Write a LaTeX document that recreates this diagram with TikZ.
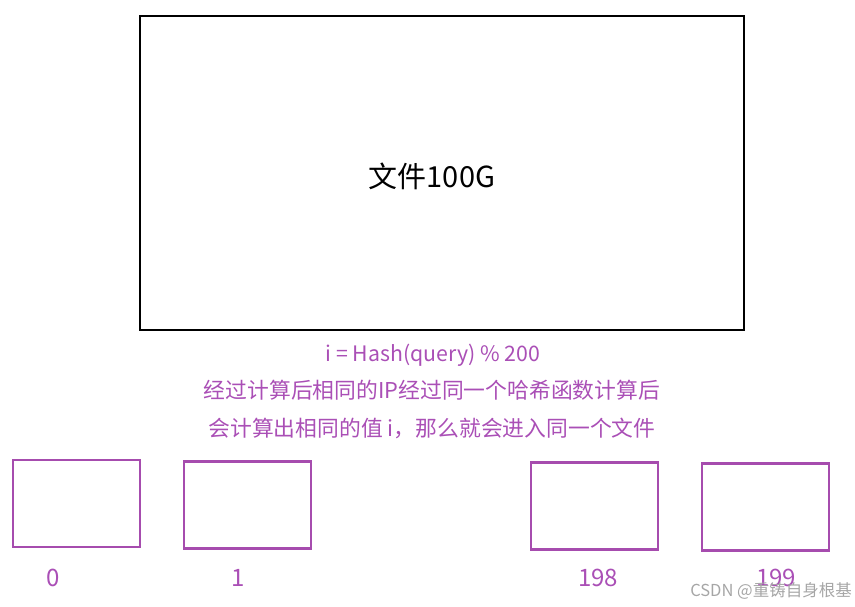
\documentclass[tikz,border=0pt]{standalone}
\usepackage{fontspec}
\setmainfont{Noto Sans CJK SC}
\definecolor{pbox}{HTML}{A64CAE}
\definecolor{ptext}{HTML}{AA4FB6}
\begin{document}
\begin{tikzpicture}[x=1pt,y=-1pt,
  bucket/.style={draw=pbox,line width=2.6pt,minimum width=127pt,minimum height=87pt,inner sep=0pt},
  numlbl/.style={text=ptext,font=\fontsize{24}{28}\selectfont,inner sep=0pt},
  note/.style={text=ptext,font=\fontsize{21.8}{26}\selectfont,inner sep=0pt}]
\useasboundingbox (0,0) rectangle (855,606);
\node[draw=black,line width=2.8pt,minimum width=604pt,minimum height=314pt,inner sep=0pt] (big) at (442,173) {};
\node[font=\fontsize{29}{34}\selectfont,inner sep=0pt] (bigt) at (432,176) {文件100G};
\node[note,font=\fontsize{21.3}{26}\selectfont] (l1) at (433,355) {i = Hash(query) \% 200};
\node[note] (l2) at (432,390) {经过计算后相同的IP经过同一个哈希函数计算后};
\node[note] (l3) at (432,428) {会计算出相同的值 i，那么就会进入同一个文件};
\node[bucket] (b0) at (76.5,503.5) {};
\node[bucket] (b1) at (247.5,505) {};
\node[bucket] (b198) at (594.5,506) {};
\node[bucket] (b199) at (765.5,507) {};
\node[numlbl] (n0) at (53,578) {0};
\node[numlbl] (n1) at (238,578) {1};
\node[numlbl] (n198) at (598,578) {198};
\node[numlbl] (n199) at (776,578) {199};
\node[text=gray!70,font=\fontsize{16.5}{20}\selectfont,inner sep=0pt,anchor=east] (wm) at (852,591) {CSDN @重铸自身根基};
\end{tikzpicture}
\end{document}
